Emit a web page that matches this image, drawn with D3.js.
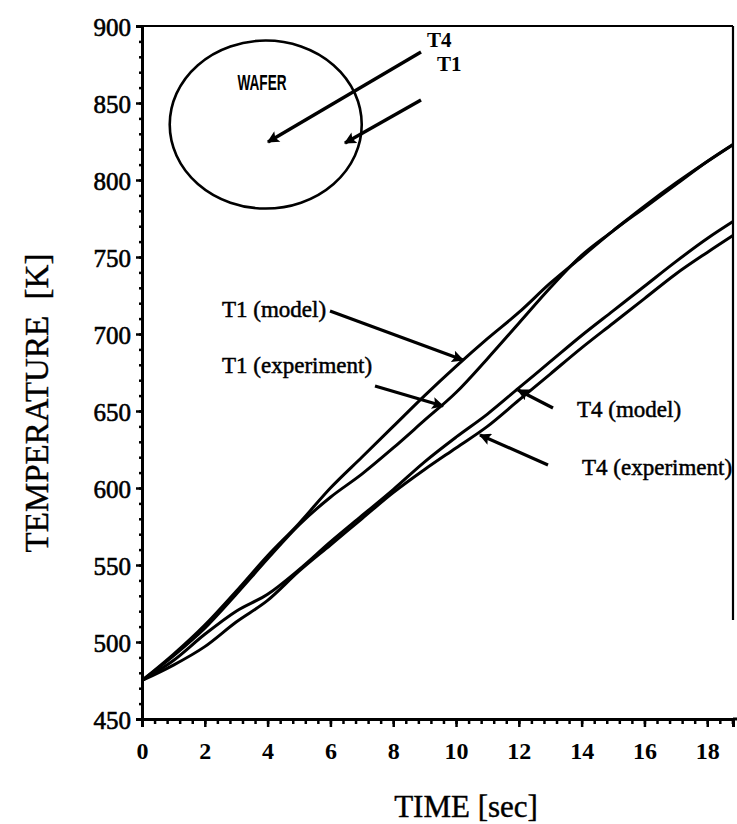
<!DOCTYPE html>
<html>
<head>
<meta charset="utf-8">
<script src="https://cdn.jsdelivr.net/npm/d3@7"></script>
<style>
  html, body { margin: 0; padding: 0; background: #fff; }
  svg { display: block; }
  text { fill: #000; }
</style>
</head>
<body>
<svg id="chart" width="737" height="824"></svg>
<script>
// ---- data ----
const time = [0, 1, 2, 3, 4, 5, 6, 7, 8, 9, 10, 11, 12, 13, 14, 15, 16, 17, 18, 18.82];
const t1Model      = [475, 492, 511, 533, 556, 577, 600, 620, 640, 660, 679, 697, 714, 733, 750, 767, 782, 797, 812, 823];
const t1Experiment = [475, 491, 509, 531, 554, 576, 594, 609, 626, 644, 662, 684, 707, 730, 751, 767, 783, 798, 812, 823];
const t4Model      = [475, 488, 505, 520, 531, 547, 565, 582, 599, 617, 633, 648, 665, 682, 699, 715, 731, 747, 762, 773];
const t4Experiment = [475, 485, 497, 513, 527, 546, 563, 580, 597, 612, 626, 640, 657, 674, 691, 707, 723, 739, 753, 764];

const xTicks = [0, 2, 4, 6, 8, 10, 12, 14, 16, 18];
const yTicks = [450, 500, 550, 600, 650, 700, 750, 800, 850, 900];
const xMinorTicks = d3.range(0, 18.81, 0.4);
const yMinorTicks = d3.range(450, 901, 10);

const xLabel = "TIME [sec]";
const yLabel = "TEMPERATURE  [K]";

// annotation texts
const curveLabels = [
  { text: "T1 (model)",      tx: 222, ty: 317, from: [330, 311], to: [463, 360] },
  { text: "T1 (experiment)", tx: 222, ty: 373, from: [375, 386], to: [443, 406] },
  { text: "T4 (model)",      tx: 577, ty: 417, from: [553, 408], to: [518, 390] },
  { text: "T4 (experiment)", tx: 582, ty: 475, from: [548, 465], to: [480, 435] }
];

// ---- layout ----
const svg = d3.select("#chart");
const x = d3.scaleLinear().domain([0, 18.82]).range([142, 733]);
const y = d3.scaleLinear().domain([450, 900]).range([719, 26]);
const serif = "'Liberation Serif', 'Times New Roman', serif";

// arrow marker
const defs = svg.append("defs");
defs.append("marker")
  .attr("id", "arrow")
  .attr("viewBox", "0 0 10 10")
  .attr("refX", 9).attr("refY", 5)
  .attr("markerUnits", "userSpaceOnUse")
  .attr("markerWidth", 16).attr("markerHeight", 12)
  .attr("orient", "auto")
  .append("path")
  .attr("d", "M0,0 L10,5 L0,10 L2,5 Z")
  .attr("fill", "#000");

// frame: top and right border
svg.append("line")
  .attr("x1", x(0)).attr("x2", x(18.82))
  .attr("y1", y(900)).attr("y2", y(900))
  .attr("stroke", "#000").attr("stroke-width", 2.2);
svg.append("line")
  .attr("x1", x(18.82)).attr("x2", x(18.82))
  .attr("y1", y(900)).attr("y2", 620)
  .attr("stroke", "#000").attr("stroke-width", 2.2);

// y axis
const yAxisG = svg.append("g").attr("transform", `translate(${x(0)},0)`);
yAxisG.call(d3.axisLeft(y).tickValues(yMinorTicks).tickSize(3).tickFormat(""));
yAxisG.append("g").call(d3.axisLeft(y).tickValues(yTicks).tickSize(6).tickPadding(5).tickFormat(d3.format("d")));
yAxisG.selectAll("path.domain").attr("stroke", "#000").attr("stroke-width", 3);
yAxisG.selectAll(".tick line").attr("stroke", "#000").attr("stroke-width", 2.5);
yAxisG.selectAll(".tick text")
  .attr("font-family", serif)
  .attr("font-size", 25).attr("font-weight", "normal").attr("fill", "#000")
  .attr("stroke", "#000").attr("stroke-width", 0.6)
  .attr("dy", "0.36em");

// x axis
const xAxisG = svg.append("g").attr("transform", `translate(0,${y(450)})`);
xAxisG.call(d3.axisBottom(x).tickValues(xMinorTicks).tickSize(5).tickFormat(""));
xAxisG.append("g").call(d3.axisBottom(x).tickValues(xTicks).tickSize(8).tickPadding(15).tickFormat(d3.format("d")));
xAxisG.selectAll("path.domain").attr("stroke", "#000").attr("stroke-width", 3);
xAxisG.selectAll(".tick line").attr("stroke", "#000").attr("stroke-width", 2.5);
xAxisG.selectAll(".tick text")
  .attr("font-family", serif)
  .attr("font-size", 24).attr("font-weight", "bold").attr("fill", "#000");
// extend x axis line to the right edge
svg.append("line")
  .attr("x1", x(18.82)).attr("x2", 737)
  .attr("y1", y(450)).attr("y2", y(450))
  .attr("stroke", "#000").attr("stroke-width", 3);

// axis titles
svg.append("text")
  .attr("x", 466).attr("y", 817)
  .attr("text-anchor", "middle")
  .attr("font-family", serif)
  .attr("font-size", 31)
  .attr("stroke", "#000").attr("stroke-width", 0.4)
  .text(xLabel);
svg.append("text")
  .attr("transform", "translate(48,403) rotate(-90)")
  .attr("text-anchor", "middle")
  .attr("font-family", serif)
  .attr("font-size", 33)
  .attr("stroke", "#000").attr("stroke-width", 0.4)
  .style("white-space", "pre")
  .text(yLabel);

// curves
const series = [t1Model, t1Experiment, t4Model, t4Experiment];
const line = d3.line()
  .x(d => x(d[0]))
  .y(d => y(d[1]))
  .curve(d3.curveMonotoneX);
svg.append("g").selectAll("path")
  .data(series)
  .join("path")
  .attr("d", s => line(time.map((t, i) => [t, s[i]])))
  .attr("fill", "none")
  .attr("stroke", "#000")
  .attr("stroke-width", 3)
  .attr("stroke-linejoin", "round");

// wafer sketch
const wafer = svg.append("g");
wafer.append("ellipse")
  .attr("cx", x(3.94)).attr("cy", y(836))
  .attr("rx", 96).attr("ry", 84)
  .attr("fill", "none").attr("stroke", "#000").attr("stroke-width", 2.6);
wafer.append("text")
  .attr("transform", "translate(262,90) scale(0.62,1)")
  .attr("text-anchor", "middle")
  .attr("font-family", "'Liberation Sans', Arial, sans-serif")
  .attr("font-weight", "bold")
  .attr("font-size", 22)
  .text("WAFER");
wafer.append("line")
  .attr("x1", 421).attr("y1", 52).attr("x2", 268).attr("y2", 142)
  .attr("stroke", "#000").attr("stroke-width", 3.4)
  .attr("marker-end", "url(#arrow)");
wafer.append("line")
  .attr("x1", 421).attr("y1", 100).attr("x2", 345).attr("y2", 143)
  .attr("stroke", "#000").attr("stroke-width", 3.4)
  .attr("marker-end", "url(#arrow)");
wafer.append("text")
  .attr("x", 427).attr("y", 47)
  .attr("font-family", serif)
  .attr("font-weight", "bold").attr("font-size", 21)
  .text("T4");
wafer.append("text")
  .attr("x", 437).attr("y", 71)
  .attr("font-family", serif)
  .attr("font-weight", "bold").attr("font-size", 21)
  .text("T1");

// curve labels with arrows
const lab = svg.append("g");
curveLabels.forEach(c => {
  lab.append("text")
    .attr("x", c.tx).attr("y", c.ty)
    .attr("font-family", serif)
    .attr("font-size", 23)
    .attr("stroke", "#000").attr("stroke-width", 0.5)
    .text(c.text);
  lab.append("line")
    .attr("x1", c.from[0]).attr("y1", c.from[1])
    .attr("x2", c.to[0]).attr("y2", c.to[1])
    .attr("stroke", "#000").attr("stroke-width", 3.2)
    .attr("marker-end", "url(#arrow)");
});
</script>
</body>
</html>
